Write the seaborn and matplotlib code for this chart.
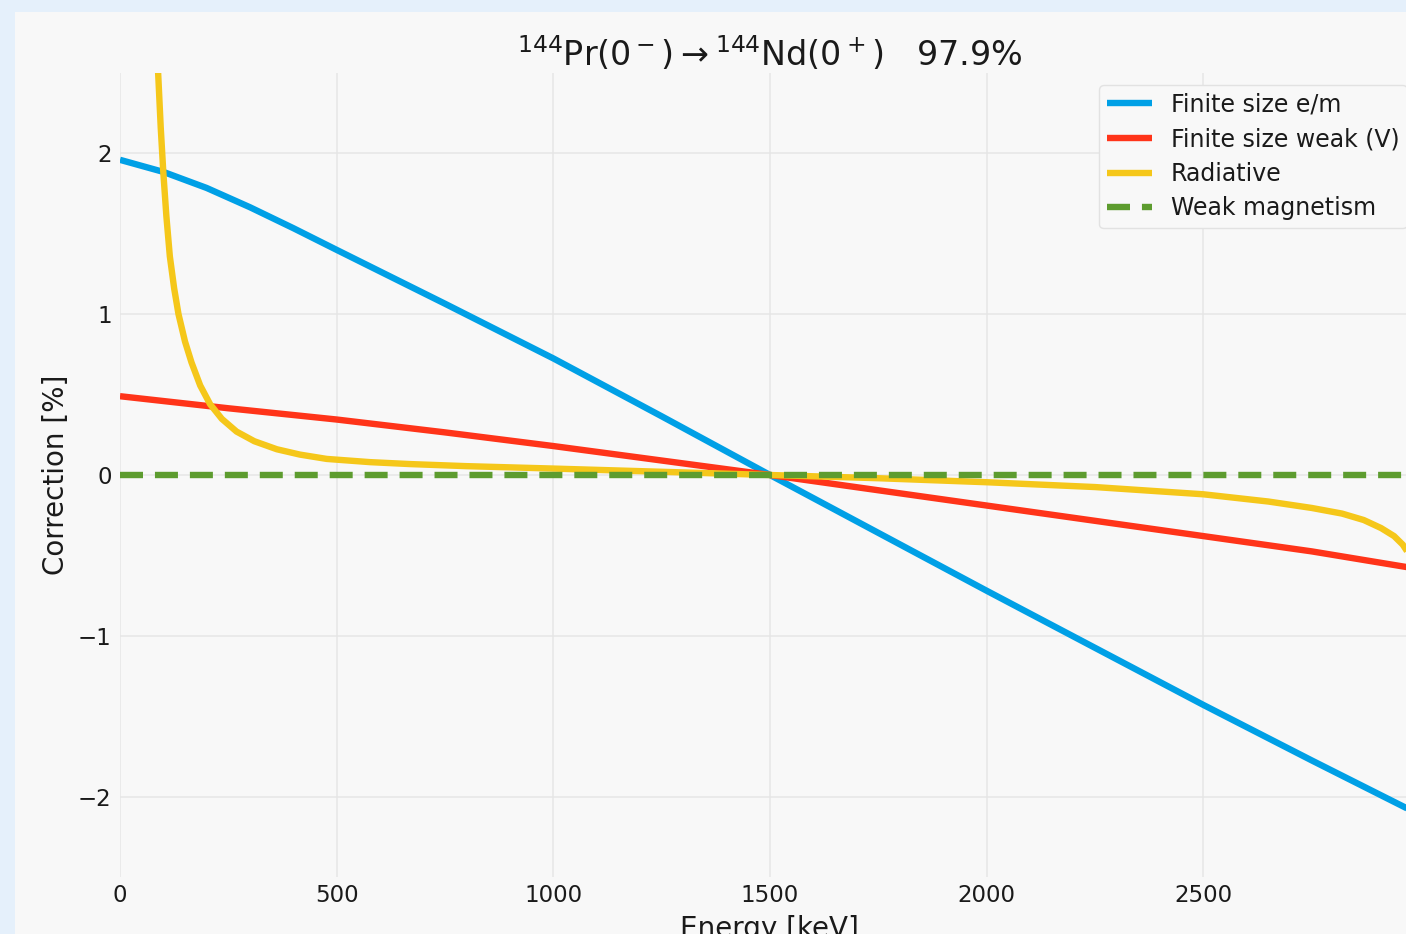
import matplotlib
matplotlib.use("Agg")
import matplotlib.pyplot as plt
from matplotlib.patches import Rectangle
import seaborn as sns

# ---- data ----
energy_em = [0, 100, 200, 300, 400, 500, 750, 1000, 1250, 1500, 1750, 2000, 2250, 2500, 2750, 2997]
finite_em = [1.96, 1.885, 1.785, 1.665, 1.535, 1.40, 1.065, 0.725, 0.365, 0.0, -0.36, -0.72, -1.075, -1.43, -1.775, -2.11]

energy_weak = [0, 250, 500, 750, 1000, 1250, 1500, 1750, 2000, 2250, 2500, 2750, 2997]
finite_weak = [0.49, 0.415, 0.345, 0.265, 0.18, 0.09, 0.0, -0.095, -0.19, -0.285, -0.38, -0.475, -0.585]

energy_rad = [84, 88, 94, 100, 107, 115, 125, 135, 150, 165, 185, 208, 235, 269, 310, 362, 415, 477, 577,
              669, 800, 1000, 1250, 1500, 1750, 2000, 2250, 2500, 2650, 2750, 2820, 2870, 2910, 2940,
              2960, 2975, 2985, 2992, 2996]
radiative = [2.78, 2.5, 2.16, 1.88, 1.61, 1.36, 1.16, 1.0, 0.83, 0.70, 0.557, 0.44, 0.349, 0.27, 0.21, 0.16, 0.127, 0.10, 0.08,
             0.068, 0.055, 0.04, 0.02, 0.0, -0.02, -0.045, -0.075, -0.12, -0.165, -0.205, -0.24, -0.28, -0.33, -0.38,
             -0.433, -0.495, -0.568, -0.67, -0.87]

energy_wm = [0, 2997]
weak_mag = [0.0, 0.0]

x_ticks = [0, 500, 1000, 1500, 2000, 2500]
y_ticks = [-2, -1, 0, 1, 2]

title = r'$^{144}$Pr$(0^-)\rightarrow^{144}$Nd$(0^+)$   97.9%'

# ---- style ----
sns.set_theme(style="whitegrid")
plt.rcParams['font.family'] = ['DejaVu Sans']
plt.rcParams['mathtext.fontset'] = 'dejavusans'
plt.rcParams['lines.solid_capstyle'] = 'butt'

BG = '#f8f8f8'
OUTER = '#e5f0fb'
C_BLUE = '#00a0e6'
C_RED = '#ff3419'
C_YEL = '#f5c71a'
C_GRN = '#5d9c2f'
LW = 4.6

W, H = 1406, 934
fig = plt.figure(figsize=(W / 100, H / 100), dpi=100, facecolor=OUTER)
fig.patches.append(Rectangle((15 / W, 0), 1 - 15 / W, 1 - 12 / H, transform=fig.transFigure,
                             facecolor=BG, edgecolor='none', zorder=-10))

ax = fig.add_axes([120 / W, 57 / H, 1299 / W, 804 / H])
ax.set_facecolor(BG)

sns.lineplot(x=energy_em, y=finite_em, ax=ax, color=C_BLUE, lw=LW, label='Finite size e/m')
sns.lineplot(x=energy_weak, y=finite_weak, ax=ax, color=C_RED, lw=LW, label='Finite size weak (V)')
sns.lineplot(x=energy_rad, y=radiative, ax=ax, color=C_YEL, lw=LW, label='Radiative', sort=False)
sns.lineplot(x=energy_wm, y=weak_mag, ax=ax, color=C_GRN, lw=LW, label='Weak magnetism',
             linestyle=(0, (3.6, 1.87)))

ax.set_xlim(0, 2997.5)
ax.set_ylim(-2.5, 2.5)
ax.set_xticks(x_ticks)
ax.set_yticks(y_ticks)
ax.grid(True, color='#e6e6e6', lw=1.1)
for s in ax.spines.values():
    s.set_visible(False)
ax.tick_params(axis='x', length=0, pad=5, labelsize=16.5)
ax.tick_params(axis='y', length=0, pad=6, labelsize=16.5)
for lab in ax.get_xticklabels() + ax.get_yticklabels():
    lab.set_color('#1a1a1a')

ax.set_xlabel('Energy [keV]', fontsize=20, color='#1a1a1a', labelpad=6)
ax.set_ylabel('Correction [%]', fontsize=20, color='#1a1a1a', labelpad=6)
ax.set_title(title, fontsize=24, color='#1a1a1a', pad=5)

leg = ax.legend(loc='upper right', fontsize=17, frameon=True, labelspacing=0.45,
                handlelength=1.9, handletextpad=0.8, borderpad=0.33, borderaxespad=0.5)
leg.get_frame().set_facecolor(BG)
leg.get_frame().set_edgecolor('#e2e2e2')
leg.get_frame().set_alpha(1)
for t in leg.get_texts():
    t.set_color('#1a1a1a')

fig.savefig('out.png', dpi=100, facecolor=fig.get_facecolor())
